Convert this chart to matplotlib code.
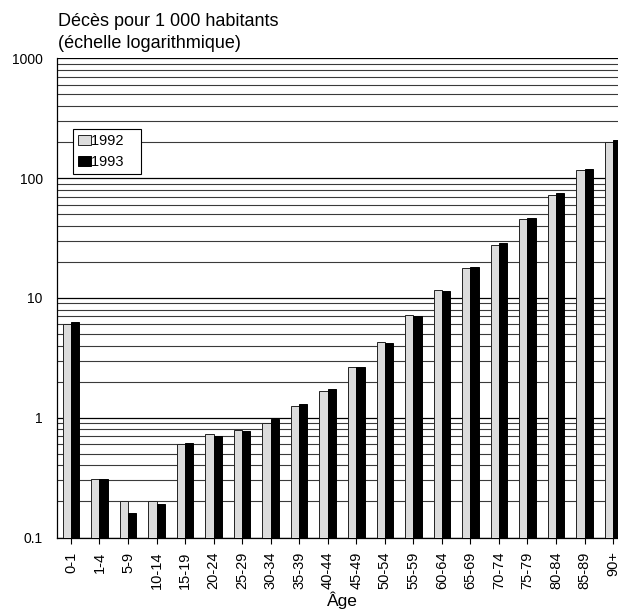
import numpy as np
import matplotlib
matplotlib.use("Agg")
import matplotlib.pyplot as plt
from matplotlib.ticker import FixedLocator, NullFormatter

plt.rcParams['font.family'] = ['Liberation Sans', 'DejaVu Sans']

# Data
ages = ["0-1", "1-4", "5-9", "10-14", "15-19", "20-24", "25-29", "30-34", "35-39",
        "40-44", "45-49", "50-54", "55-59", "60-64", "65-69", "70-74", "75-79",
        "80-84", "85-89", "90+"]
deaths_1992 = [6.07, 0.31, 0.20, 0.20, 0.60, 0.735, 0.79, 0.91, 1.25,
               1.67, 2.63, 4.32, 7.17, 11.7, 17.7, 27.8, 45.3, 72.6, 117, 201]
deaths_1993 = [6.3, 0.31, 0.16, 0.19, 0.62, 0.70, 0.78, 0.98, 1.30,
               1.75, 2.63, 4.19, 7.03, 11.4, 18.1, 28.6, 46.2, 74.5, 120, 206]
ytick_vals = [0.1, 1, 10, 100, 1000]
ytick_labels = ["0.1", "1", "10", "100", "1000"]

fig = plt.figure(figsize=(6.18, 6.16), dpi=100)
# axes runs past the right edge of the figure, as in the original
ax = fig.add_axes([56.7 / 618, (616 - 537.5) / 616, 570.6 / 618, 479.2 / 616])

x = np.arange(len(ages))
w = 0.29
ax.bar(x - w / 2, deaths_1992, w, color='#dcdcdc', edgecolor='#222222',
       linewidth=0.7, label='1992   ', zorder=3)
ax.bar(x + w / 2, deaths_1993, w, color='black', edgecolor='black',
       linewidth=0.7, label='1993   ', zorder=3)

ax.set_yscale('log')
ax.set_ylim(0.1, 1000)
ax.set_xlim(-0.5, len(ages) - 0.5)

ax.yaxis.set_major_locator(FixedLocator(ytick_vals))
ax.yaxis.set_minor_formatter(NullFormatter())
ax.set_yticklabels(ytick_labels)
ax.tick_params(axis='y', which='both', length=0, pad=10, labelsize=10)
ax.grid(True, axis='y', which='major', color='black', linewidth=0.9, zorder=0)
ax.grid(True, axis='y', which='minor', color='#3a3a3a', linewidth=0.8, zorder=0)
ax.set_axisbelow(True)

ax.set_xticks(x)
ax.set_xticklabels(ages, rotation=90)
ax.tick_params(axis='x', length=4, width=0.8, pad=6, labelsize=10.5)
ax.set_xlabel("Âge", fontsize=12.5, labelpad=2)

for s in ['top', 'right']:
    ax.spines[s].set_visible(False)
ax.spines['left'].set_linewidth(0.9)
ax.spines['bottom'].set_linewidth(0.9)

fig.text(58 / 618, 1 - 22 / 616, "Décès pour 1 000 habitants",
         fontsize=13, va='center', ha='left')
fig.text(58 / 618, 1 - 43 / 616, "(échelle logarithmique)",
         fontsize=13, va='center', ha='left')

leg = ax.legend(loc='upper left', bbox_to_anchor=(16 / 570.6, 1 - 71 / 479.2),
                fontsize=10.5, frameon=True, fancybox=False, handlelength=0.9,
                handleheight=0.7, handletextpad=0.0, borderpad=0.35,
                labelspacing=0.45, borderaxespad=0)
leg.get_frame().set_edgecolor('black')
leg.get_frame().set_linewidth(0.8)
leg.get_frame().set_alpha(1)

fig.savefig("out.png", dpi=100)
